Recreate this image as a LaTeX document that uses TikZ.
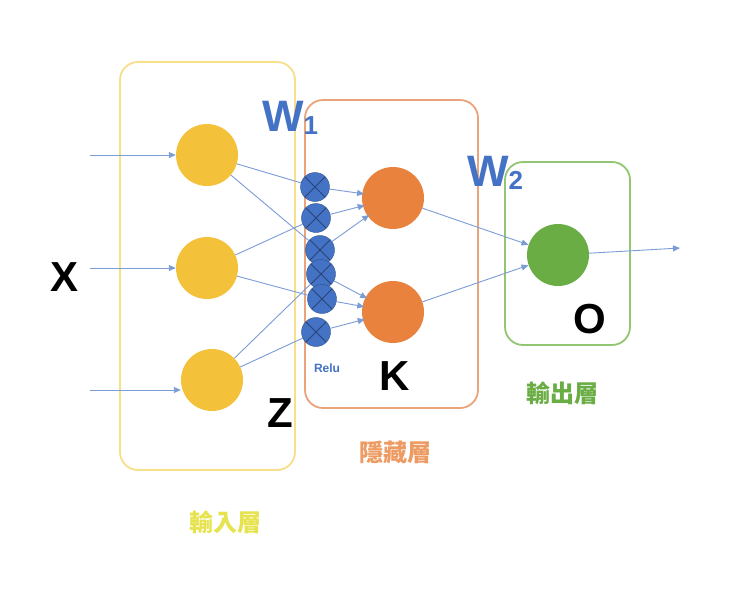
\documentclass[tikz,border=0pt]{standalone}
\usepackage{fontspec}
\setmainfont{Liberation Sans}
\newfontfamily\cjk{Noto Sans CJK TC}
\usetikzlibrary{arrows.meta}
\definecolor{yel}{HTML}{F4C23A}
\definecolor{ora}{HTML}{E8823C}
\definecolor{gre}{HTML}{6AAD45}
\definecolor{blu}{HTML}{4472C4}
\definecolor{ybox}{HTML}{F8DF8A}
\definecolor{obox}{HTML}{E9A47C}
\definecolor{gbox}{HTML}{93C672}
\definecolor{ylab}{HTML}{E6E34E}
\begin{document}
\begin{tikzpicture}[x=1pt,y=-1pt,
  box/.style={draw=#1,line width=1.8pt,rounded corners=18pt},
  neuron/.style={circle,fill=#1,minimum size=62pt,inner sep=0pt},
  mult/.style={circle,fill=blu,draw=blu!70!black,minimum size=29pt,inner sep=0pt,path picture={\draw[blu!60!black,line width=0.8pt] (path picture bounding box.north west)--(path picture bounding box.south east) (path picture bounding box.north east)--(path picture bounding box.south west);}},
  conn/.style={blu!70,line width=0.9pt},
  arr/.style={conn,-{Triangle[length=7pt,width=6pt]}},
  big/.style={font=\bfseries\fontsize{42}{42}\selectfont},
  wlab/.style={blu,font=\bfseries\fontsize{44}{44}\selectfont},
  cjklab/.style={font=\cjk\bfseries\fontsize{24}{24}\selectfont}]
\useasboundingbox[fill=white] (0,0) rectangle (730,590);
\draw[box=ybox] (120,62) rectangle (295,470);
\draw[box=obox] (305,100) rectangle (478,408);
\draw[box=gbox] (505,162) rectangle (630,345);
\node[neuron=yel] (i1) at (207,155) {};
\node[neuron=yel] (i2) at (207,268) {};
\node[neuron=yel] (i3) at (212,380) {};
\node[neuron=ora] (h1) at (393,198) {};
\node[neuron=ora] (h2) at (393,312) {};
\node[neuron=gre] (o) at (558,255) {};
\node[mult] (c1) at (315,187) {};
\node[mult] (c2) at (316,218) {};
\node[mult] (c3) at (320,250) {};
\node[mult] (c4) at (321,274) {};
\node[mult] (c5) at (322,299) {};
\node[mult] (c6) at (316,332) {};
\coordinate (in1) at (90,155);
\coordinate (in2) at (90,268);
\coordinate (in3) at (90,390);
\coordinate (out) at (680,248);
\draw[arr] (in1) -- (i1);
\draw[arr] (in2) -- (i2);
\draw[arr] (in3) -- (i3.west|-in3);
\foreach \a/\b in {i1/c1,i1/c3,i2/c2,i2/c5,i3/c4,i3/c6}
  \draw[conn] (\a) -- (\b);
\foreach \a/\b in {c1/h1,c2/h1,c3/h1,c4/h2,c5/h2,c6/h2}
  \draw[arr,shorten >=-2pt] (\a) -- (\b);
\draw[arr] (h1) -- (o);
\draw[arr] (h2) -- (o);
\draw[arr] (o) -- (out);
\node[big] (x) at (65,277) {X};
\node[big] (z) at (280,413) {Z};
\node[big] (k) at (395,376) {K};
\node[big] (ol) at (590,319) {O};
\node[wlab] (w1) at (290,118) {W\fontsize{26}{26}\selectfont\raisebox{-3pt}{1}};
\node[wlab] (w2) at (495,173) {W\fontsize{26}{26}\selectfont\raisebox{-3pt}{2}};
\node[blu,font=\bfseries\fontsize{12}{12}\selectfont] (relu) at (327,368) {Relu};
\node[cjklab,text=ylab] (l1) at (225,522) {輸入層};
\node[cjklab,text=ora!80] (l2) at (395,452) {隱藏層};
\node[cjklab,text=gre] (l3) at (562,393) {輸出層};
\end{tikzpicture}
\end{document}
